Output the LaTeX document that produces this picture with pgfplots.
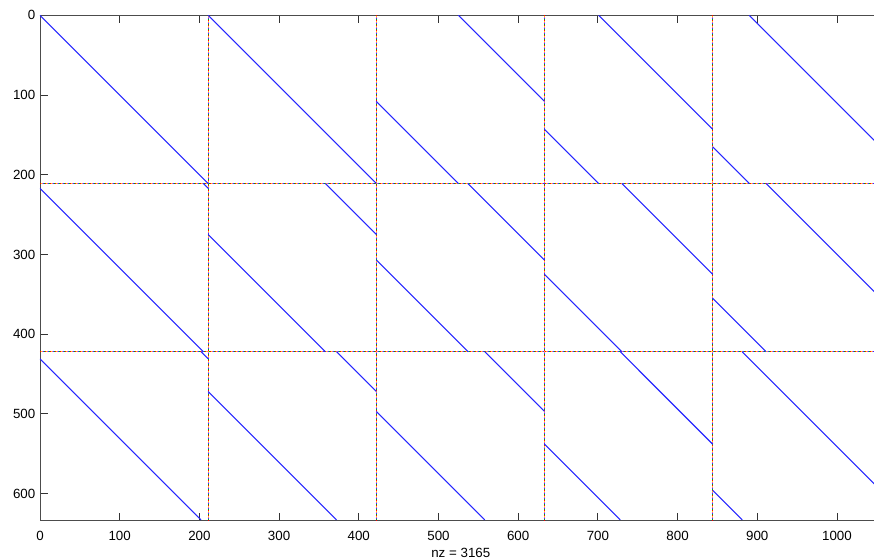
\documentclass[border=0pt]{standalone}
\usepackage{pgfplots}
\pgfplotsset{compat=1.18}
\usepackage{fontspec}
\setmainfont{Liberation Sans}
\begin{document}
\begin{tikzpicture}
% page = visible part of the spy plot (right edge is cut off)
\useasboundingbox (-30pt,-29.5pt) rectangle (625.5pt,390.5pt);
\begin{axis}[
  at={(0,0)}, anchor=south west, scale only axis,
  width=631.2pt, height=379.0pt,
  xmin=0, xmax=1056, ymin=0, ymax=634, y dir=reverse,
  xtick={0,100,...,1000}, ytick={0,100,...,600},
  tick pos=both, tick align=inside, major tick length=6pt,
  tick style={black!80, line width=0.6pt},
  axis line style={black!70, line width=0.6pt},
  tick label style={font=\fontsize{10}{12}\selectfont},
  xticklabel style={yshift=-4pt},
  /pgf/number format/assume math mode=true,
  /pgf/number format/set thousands separator={},
  xlabel={nz = 3165},
  xlabel style={font=\fontsize{10}{12}\selectfont, yshift=1pt},
  unbounded coords=jump,
]
% dense rows / columns (multi-coloured dotted)
\addplot[red, line width=0.9pt, dash pattern=on 0.75pt off 3pt] coordinates {
  (0,211)(1056,211)(nan,nan)(0,422)(1056,422)(nan,nan)
  (211,0)(211,634)(nan,nan)(422,0)(422,634)(nan,nan)
  (633,0)(633,634)(nan,nan)(844,0)(844,634)};
\addplot[green!70!black, line width=0.9pt, dash pattern=on 0.75pt off 3pt, dash phase=0.75pt] coordinates {
  (0,211)(1056,211)(nan,nan)(0,422)(1056,422)(nan,nan)
  (211,0)(211,634)(nan,nan)(422,0)(422,634)(nan,nan)
  (633,0)(633,634)(nan,nan)(844,0)(844,634)};
\addplot[blue!80, line width=0.9pt, dash pattern=on 0.75pt off 3pt, dash phase=1.5pt] coordinates {
  (0,211)(1056,211)(nan,nan)(0,422)(1056,422)(nan,nan)
  (211,0)(211,634)(nan,nan)(422,0)(422,634)(nan,nan)
  (633,0)(633,634)(nan,nan)(844,0)(844,634)};
\addplot[magenta!70, line width=0.9pt, dash pattern=on 0.75pt off 3pt, dash phase=2.25pt] coordinates {
  (0,211)(1056,211)(nan,nan)(0,422)(1056,422)(nan,nan)
  (211,0)(211,634)(nan,nan)(422,0)(422,634)(nan,nan)
  (633,0)(633,634)(nan,nan)(844,0)(844,634)};
\addplot[yellow!80!orange, line width=0.9pt, dash pattern=on 0.75pt off 3pt, dash phase=3pt] coordinates {
  (0,211)(1056,211)(nan,nan)(0,422)(1056,422)(nan,nan)
  (211,0)(211,634)(nan,nan)(422,0)(422,634)(nan,nan)
  (633,0)(633,634)(nan,nan)(844,0)(844,634)};
% nonzeros: one shifted diagonal per 211x211 block
\addplot[blue!85, line width=0.8pt] coordinates {
  (0,0)(211,211)(nan,nan)
  (211,0)(422,211)(nan,nan)
  (525,0)(633,108)(nan,nan)(422,108)(525,211)(nan,nan)
  (701,0)(844,143)(nan,nan)(633,143)(701,211)(nan,nan)
  (890,0)(1055,165)(nan,nan)(844,165)(890,211)(nan,nan)
  (205,211)(211,217)(nan,nan)(0,217)(205,422)(nan,nan)
  (358,211)(422,275)(nan,nan)(211,275)(358,422)(nan,nan)
  (537,211)(633,307)(nan,nan)(422,307)(537,422)(nan,nan)
  (730,211)(844,325)(nan,nan)(633,325)(730,422)(nan,nan)
  (911,211)(1055,355)(nan,nan)(844,355)(911,422)(nan,nan)
  (202,422)(211,431)(nan,nan)(0,431)(202,633)(nan,nan)
  (372,422)(422,472)(nan,nan)(211,472)(372,633)(nan,nan)
  (558,422)(633,497)(nan,nan)(422,497)(558,633)(nan,nan)
  (728,422)(844,538)(nan,nan)(633,538)(728,633)(nan,nan)
  (881,422)(1055,596)(nan,nan)(844,596)(881,633)};
\end{axis}
\end{tikzpicture}
\end{document}
